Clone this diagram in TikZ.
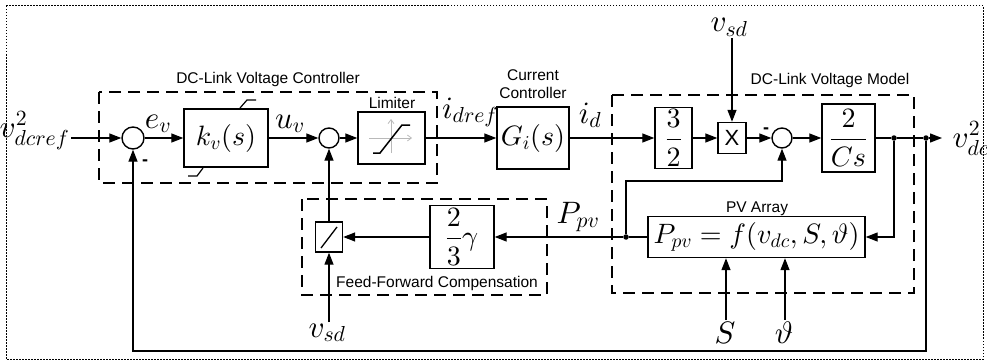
\documentclass[tikz,border=0pt]{standalone}
\usepackage{fontspec}
\setsansfont{Liberation Sans}
\DeclareFontShape{OML}{cmm}{m}{it}{<->cmmi10}{}
\DeclareFontShape{OT1}{cmr}{m}{n}{<->cmr10}{}
\DeclareFontShape{OMS}{cmsy}{m}{n}{<->cmsy10}{}
\DeclareFontShape{OMX}{cmex}{m}{n}{<->cmex10}{}
\usetikzlibrary{arrows.meta}
\newcommand\dgMath{\fontsize{28}{33}\selectfont}
\newcommand\dgLab{\fontsize{31}{36}\selectfont}
\newcommand\dgTxt{\sffamily\fontsize{15.5}{19}\selectfont}
\begin{document}
\begin{tikzpicture}[x=1pt,y=-1pt,
  >={Triangle[length=12pt,width=9pt]},
  line width=1.3pt,
  blk/.style={draw, line width=1.4pt, inner sep=0pt, font=\dgMath},
  sumc/.style={draw, circle, line width=1.4pt, inner sep=0pt},
  grp/.style={draw, line width=2.4pt, dash pattern=on 12pt off 7pt},
  dotn/.style={circle, fill, inner sep=0pt, minimum size=5.5pt},
  sig/.style={font=\dgLab, inner sep=1pt, anchor=base},
  txt/.style={font=\dgTxt, inner sep=0pt, anchor=base},
  minus/.style={font=\sffamily\bfseries\fontsize{18}{20}\selectfont, inner sep=0pt},
]
\useasboundingbox (0,0) rectangle (987,361);
\draw[line width=1pt, dash pattern=on 1.5pt off 1.5pt] (6,6) rectangle (983,359);

% group boxes
\draw[grp] (99,92) rectangle (437,183);
\draw[grp] (612,95) rectangle (914,293);
\draw[grp] (302,199) rectangle (547,295);
\node[txt] (tctl) at (268,83.5) {DC-Link Voltage Controller};
\node[txt] (tmod) at (830,84.5) {DC-Link Voltage Model};
\node[txt] (tff) at (437,287.5) {Feed-Forward Compensation};
\node[txt] (tpv) at (757,212.5) {PV Array};
\node[txt] (tlim) at (392,108) {Limiter};
\node[font=\dgTxt, inner sep=0pt, align=center] (tcc) at (533,84) {Current\\[-1pt]Controller};

% blocks
\node[sumc, minimum size=22pt] (s1) at (133,138) {};
\node[blk, minimum width=84pt, minimum height=58pt] (kv) at (226,138) {$k_v(s)$};
\node[sumc, minimum size=20pt] (s2) at (329,138) {};
\node[blk, minimum width=67pt, minimum height=52pt] (lim) at (391.5,138) {};
\node[blk, minimum width=72pt, minimum height=62pt] (gi) at (533,138) {$G_i(s)$};
\node[blk, minimum width=37pt, minimum height=61pt] (b32) at (673.5,138) {$\displaystyle\frac{3}{2}$};
\node[blk, minimum width=28pt, minimum height=31pt, font=\sffamily\fontsize{22}{24}\selectfont] (mx) at (732,138) {X};
\node[sumc, minimum size=20pt] (s3) at (782,138) {};
\node[blk, minimum width=53pt, minimum height=68pt] (cs) at (848.5,138) {$\displaystyle\frac{2}{Cs}$};
\node[dotn] (d1) at (894,138) {};
\node[dotn] (d2) at (926,138) {};
\node[blk, minimum width=217pt, minimum height=41pt] (pv) at (756.5,237) {$P_{pv}=f(v_{dc},S,\vartheta)$};
\node[dotn] (d3) at (626,237) {};
\node[blk, minimum width=64pt, minimum height=63pt] (gam) at (462,237) {$\displaystyle\frac{2}{3}\gamma$};
\node[blk, minimum width=27pt, minimum height=30pt] (dv) at (329,237) {};

% limiter icon
\draw[gray!55, line width=0.8pt, -{Straight Barb[length=4pt,width=6pt]}] (369,138) -- (412,138);
\draw[gray!55, line width=0.8pt, -{Straight Barb[length=4pt,width=6pt]}] (391,153) -- (391,119);
\draw[line width=1.5pt] (373,153) -- (380,153) -- (402,125) -- (410,125);
% divider icon
\draw[line width=1.3pt] (321,248) -- (337,227);
% anti-windup marks
\draw[line width=1.2pt] (240,108) -- (247,100) -- (256,100);
\draw[line width=1.2pt] (188,176) -- (197,176) -- (203,168);

% labels
\node[sig, anchor=base east] (vin) at (71,137) {$v^2_{dcref}$};
\node[sig] (ev) at (158,128) {$e_v$};
\node[sig] (uv) at (290,128) {$u_v$};
\node[sig] (idr) at (470,118) {$i_{dref}$};
\node[sig] (id) at (590,123) {$i_d$};
\node[sig] (vsdt) at (729,32) {$v_{sd}$};
\node[sig, anchor=base west] (vout) at (951,147) {$v^2_{dc}$};
\node[sig] (ppv) at (578,223) {$P_{pv}$};
\node[sig] (vsdb) at (327,337) {$v_{sd}$};
\node[sig] (sS) at (725,343) {$S$};
\node[sig] (th) at (784,343) {$\vartheta$};
\node[minus] (m1) at (145,163) {-};
\node[minus] (m3) at (766,131) {-};

\coordinate (oend) at (942,138);
\coordinate (fb) at (133,351);

% connectors
\draw[->] (vin.east |- s1) -- (s1);
\draw[->] (s1) -- (kv);
\draw[->] (kv) -- (s2);
\draw[->] (s2) -- (lim);
\draw[->] (lim) -- (gi);
\draw[->] (gi) -- (b32);
\draw[->] (b32) -- (mx);
\draw[->] (vsdt.south -| mx.north) -- (mx.north);
\draw[->] (mx) -- (s3);
\draw[->] (s3) -- (cs);
\draw (cs) -- (d1) -- (d2);
\draw[->] (d2) -- (oend);
\draw[->] (d1) |- (pv.east);
\draw[->] (d2) |- (fb) -- (s1.south);
\draw (pv.west) -- (d3);
\draw[->] (d3) -- (gam.east);
\draw[->] (d3) -- ++(0,-56) -| (s3.south);
\draw[->] (gam.west) -- (dv.east);
\draw[->] (dv.north) -- (s2.south);
\draw[->] (vsdb.north -| dv.south) -- (dv.south);
\draw[->] (sS.north -| 726,0) -- (726,0 |- pv.south);
\draw[->] (th.north -| 785,0) -- (785,0 |- pv.south);
\end{tikzpicture}
\end{document}
